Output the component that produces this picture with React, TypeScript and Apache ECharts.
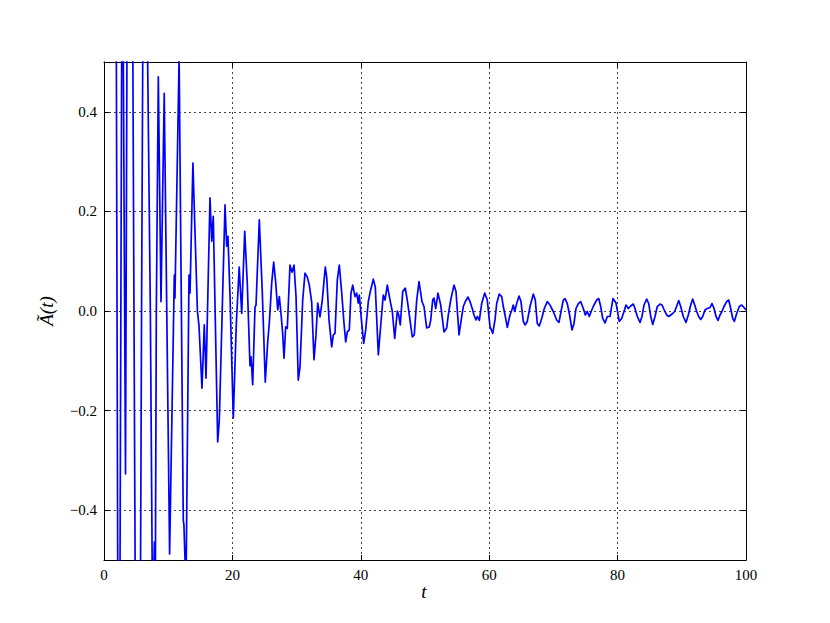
import React, { useEffect, useRef } from "react";
import * as echarts from "echarts";

// time samples t
const tValues: number[] = [
  0, 0.7, 1.7, 2.3, 2.85, 3.35, 3.65, 4.05, 4.67, 5.3, 5.85, 6.25, 6.8, 7.22, 7.5, 7.7, 7.85, 8.0, 8.15,
  8.46, 8.88, 9.38, 10.22, 10.95, 11.05, 11.7, 12.35, 12.45, 12.77, 13.24, 13.4, 13.85,
  14.55, 14.8, 15.26, 15.62, 15.89, 16.51, 16.78, 17.02, 17.71, 17.96, 18.85, 19.11, 19.31, 19.63,
  20.14, 20.61, 21.06, 21.45, 21.92, 22.32, 22.74, 22.9, 23.16, 23.52, 23.68, 24.19, 24.66,
  25.12, 25.5, 25.75, 26.12, 26.43, 26.74, 27.06, 27.31, 27.57, 27.83, 28.04, 28.3, 28.55, 28.97,
  29.28, 29.6, 29.91, 30.26, 30.53, 30.95, 31.31, 31.67, 31.98, 32.35, 32.71, 33.02, 33.29, 33.64,
  34.0, 34.47, 34.69, 35.05, 35.47, 35.72, 35.98, 36.34, 36.65, 37.03, 37.38, 37.65, 37.9, 38.21,
  38.47, 38.74, 39.1, 39.36, 39.61, 39.77, 40.14, 40.45, 40.76, 41.17, 41.43, 41.95, 42.26, 42.73,
  43.15, 43.5, 43.77, 44.13, 44.55, 44.91, 45.28, 45.69, 45.9, 46.15, 46.53, 46.93, 47.24, 47.66,
  48.02, 48.33, 48.71, 49.07, 49.53, 49.84, 50.26, 50.67, 50.89, 51.2, 51.4, 51.67, 52.02, 52.45,
  52.96, 53.38, 53.63, 54.0, 54.52, 54.83, 55.3, 55.72, 55.97, 56.28, 56.7, 57.01, 57.43, 57.63,
  57.94, 58.15, 58.46, 58.83, 59.3, 59.7, 60.12, 60.55, 60.9, 61.17, 61.57, 61.95, 62.2, 62.51,
  62.82, 63.24, 63.55, 63.75, 63.97, 64.28, 64.64, 64.95, 65.31, 65.58, 65.93, 66.36, 66.87, 67.18,
  67.49, 67.8, 68.18, 68.58, 69.05, 69.47, 69.98, 70.51, 70.87, 71.23, 71.54, 71.81, 72.16, 72.48,
  72.9, 73.21, 73.52, 73.88, 74.25, 74.66, 74.97, 75.28, 75.59, 75.97, 76.32, 76.74, 77.06, 77.37,
  77.68, 78.04, 78.4, 78.82, 79.28, 79.75, 80.26, 80.64, 81.0, 81.31, 81.67, 82.04, 82.45, 82.71,
  83.07, 83.49, 83.8, 84.11, 84.53, 84.85, 85.16, 85.47, 85.83, 86.18, 86.6, 86.92, 87.27, 87.65,
  87.96, 88.27, 88.58, 88.89, 89.21, 89.52, 89.83, 90.23, 90.65, 91.01, 91.39, 91.7, 92.01, 92.32,
  92.63, 92.94, 93.26, 93.61, 93.97, 94.39, 94.7, 95.02, 95.33, 95.64, 95.95, 96.26, 96.57, 96.99,
  97.31, 97.62, 97.93, 98.18, 98.55, 98.96, 99.33, 99.69, 100
];

// signal values A~(t)
const aValues: number[] = [
  1.0, 1.8, 1.6, -1.3, 0.9, -0.327, 0.8, 1.8, 0, -1.8, 0, 1.1, 0.5, 0, -0.5, -0.56, -0.464, -0.54, 0,
  0.47, 0.019, 0.437, -0.488, 0.072, 0.026, 0.51, -0.42, -0.43, -0.56, 0.072, 0.036, 0.297,
  0.0, -0.03, -0.155, -0.028, -0.135, 0.227, 0.14, 0.19, -0.263, -0.22, 0.213, 0.13, 0.15, 0.03,
  -0.215, -0.025, 0.088, -0.005, 0.16, 0.055, -0.11, -0.092, -0.148, 0.008, 0.012, 0.183, 0.036,
  -0.143, -0.062, -0.024, 0.056, 0.098, 0.058, 0.002, 0.029, -0.005, -0.045, -0.095, -0.032, -0.035, 0.092,
  0.078, 0.092, 0.029, -0.139, -0.112, 0.022, 0.076, 0.068, 0.052, 0.018, -0.098, -0.048, 0.016, -0.012,
  0.022, 0.088, 0.068, -0.018, -0.072, -0.048, -0.045, 0.062, 0.092, 0.036, -0.024, -0.062, -0.042, -0.038,
  0.036, 0.052, 0.029, 0.036, 0.016, 0.032, -0.024, -0.065, -0.038, 0.019, 0.036, 0.064, 0.048, -0.088,
  -0.021, 0.032, 0.022, 0.052, 0.022, -0.001, -0.055, 0.0, -0.008, -0.028, 0.039, 0.046, 0.022, -0.018,
  -0.052, -0.048, 0.022, 0.059, 0.019, 0.009, -0.034, -0.032, -0.018, 0.022, 0.026, 0.005, 0.036, 0.012,
  -0.042, -0.034, -0.008, 0.022, 0.052, 0.039, -0.048, -0.011, 0.009, 0.019, 0.028, 0.019, 0.002, -0.008,
  -0.018, -0.011, -0.019, 0.015, 0.036, 0.022, -0.031, -0.045, -0.018, 0.015, 0.034, 0.029, 0.009, -0.011,
  -0.033, -0.008, 0.003, 0.012, -0.001, 0.015, 0.03, 0.019, -0.021, -0.028, -0.021, 0.009, 0.034, 0.022,
  -0.025, -0.03, -0.015, 0.005, 0.019, 0.012, -0.001, -0.018, -0.023, 0.002, 0.022, 0.025, 0.015, -0.005,
  -0.038, -0.025, 0.005, 0.015, 0.019, 0.005, -0.008, -0.001, -0.011, 0.002, 0.012, 0.022, 0.025, 0.009,
  -0.015, -0.024, -0.011, -0.011, 0.025, 0.016, -0.021, -0.015, -0.001, 0.012, 0.005, 0.01, 0.014, 0.005,
  -0.011, -0.023, -0.011, 0.012, 0.024, 0.015, -0.011, -0.027, -0.011, 0.009, 0.014, 0.012, 0.002, -0.008,
  -0.011, -0.008, -0.005, -0.001, 0.01, 0.021, 0.009, -0.011, -0.023, -0.008, 0.012, 0.024, 0.012, -0.001,
  -0.011, -0.017, -0.011, 0.002, 0.005, 0.007, 0.015, 0.005, -0.011, -0.019, -0.008, -0.001, 0.009, 0.019,
  0.022, 0.005, -0.015, -0.021, -0.005, 0.009, 0.012, 0.007, 0.002
];

const xTitle = "t";
const yTitle = "Ã(t)";

const FONT = "'Liberation Serif', 'DejaVu Serif', serif";

export default function App() {
  const ref = useRef<HTMLDivElement>(null);
  useEffect(() => {
    if (!ref.current) return;
    const chart = echarts.init(ref.current, undefined, { renderer: "svg" });
    const data = tValues.map((t, i) => [t, aValues[i]]);
    const gridLine = { show: true, lineStyle: { color: "#444", type: [2, 3] as any, width: 1 } };
    const axisLine = { show: true, onZero: false, lineStyle: { color: "#000", width: 1 } };
    const tick = { show: true, inside: true, length: 5, lineStyle: { color: "#000", width: 1 } };
    const labelStyle = { color: "#000", fontFamily: FONT, fontSize: 15 };
    chart.setOption({
      animation: false,
      backgroundColor: "#fff",
      grid: { left: 104, right: 84, top: 62, bottom: 63, containLabel: false },
      xAxis: [
        {
          type: "value", min: 0, max: 100, interval: 20, position: "bottom",
          axisLine, axisTick: tick, splitLine: gridLine,
          axisLabel: { ...labelStyle, margin: 7 },
        },
        {
          type: "value", min: 0, max: 100, interval: 20, position: "top",
          axisLine, axisTick: tick, splitLine: { show: false }, axisLabel: { show: false },
        },
      ],
      yAxis: [
        {
          type: "value", min: -0.5, max: 0.5, splitNumber: 5, position: "left",
          axisLine, axisTick: tick, splitLine: gridLine,
          axisLabel: {
            ...labelStyle, margin: 7, showMinLabel: false, showMaxLabel: false,
            formatter: (v: number) => v.toFixed(1).replace("-", "\u2212"),
          },
        },
        {
          type: "value", min: -0.5, max: 0.5, splitNumber: 5, position: "right",
          axisLine, axisTick: tick, splitLine: { show: false }, axisLabel: { show: false },
        },
      ],
      graphic: [
        {
          type: "text", x: 424, y: 591,
          style: { text: xTitle, font: `italic 19px ${FONT}`, fill: "#000", align: "center", verticalAlign: "middle" },
        },
        {
          type: "text", x: 46, y: 311, rotation: Math.PI / 2,
          style: { text: yTitle, font: `italic 19px ${FONT}`, fill: "#000", align: "center", verticalAlign: "middle" },
        },
      ],
      series: [
        {
          type: "line", data, xAxisIndex: 0, yAxisIndex: 0, showSymbol: false, clip: true,
          lineStyle: { color: "#0000ff", width: 1.7, join: "round" }, z: 3,
        },
      ],
    });
    return () => chart.dispose();
  }, []);
  return <div ref={ref} style={{ width: 830, height: 623, position: "absolute", left: 0, top: 0 }} />;
}
